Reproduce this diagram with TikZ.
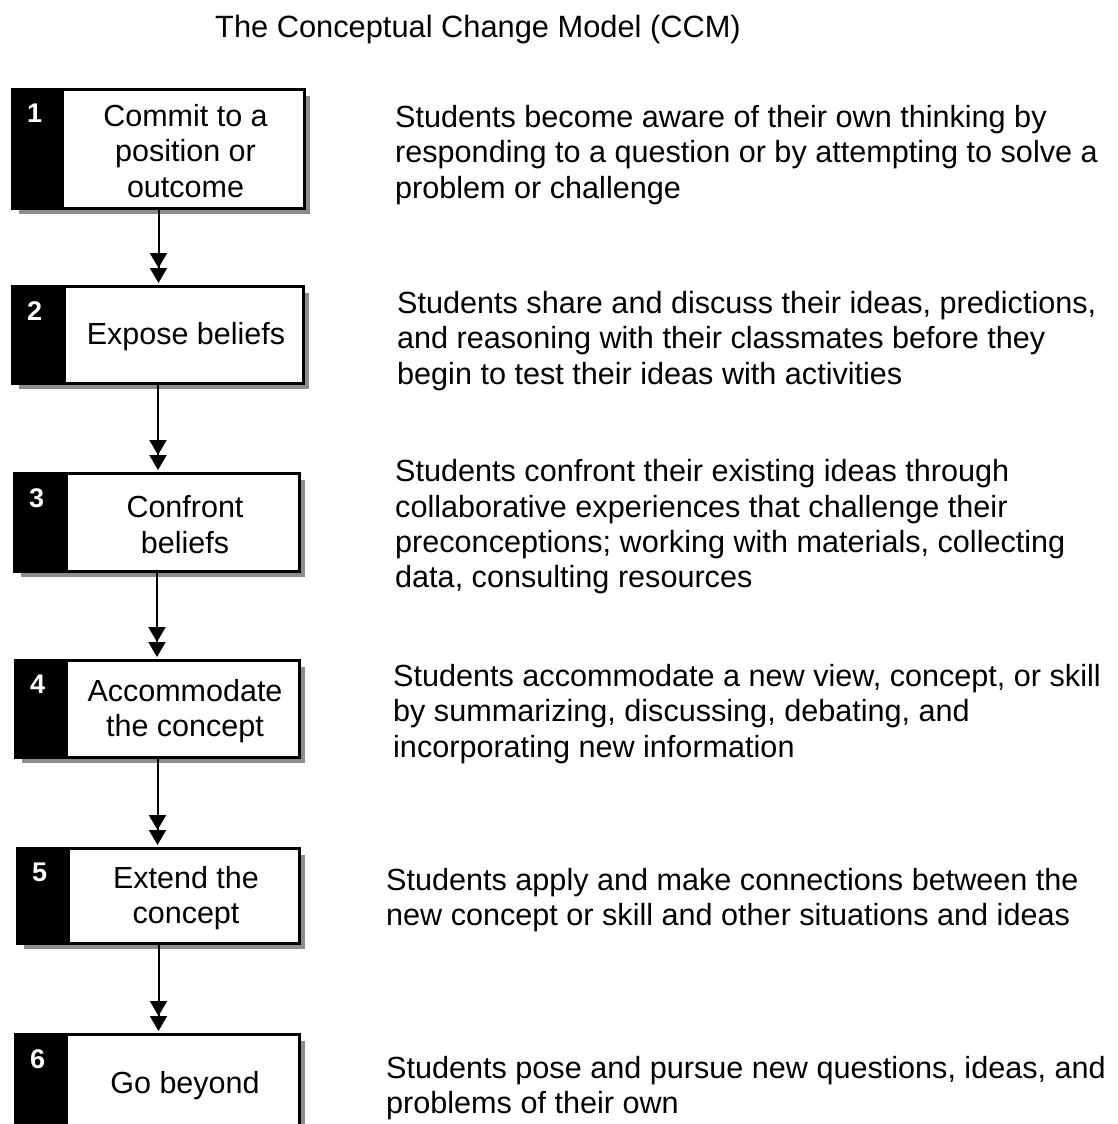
\documentclass[tikz,border=0pt]{standalone}
\usepackage{fontspec}
\setmainfont{Liberation Sans}
\usetikzlibrary{arrows.meta,shadows,calc}
\tikzset{
  stepbox/.style={draw=black, line width=2pt, fill=white, rectangle, inner sep=0pt,
    anchor=north west,
    drop shadow={shadow xshift=6pt, shadow yshift=-6pt, fill=black!45, opacity=1}},
  boxtext/.style={inner sep=0pt, align=center, font=\fontsize{30.5}{35.5}\selectfont},
  desctext/.style={inner sep=0pt, align=left, anchor=west, font=\fontsize{30.6}{35.3}\selectfont},
  numtext/.style={inner sep=0pt, anchor=north west, text=white, font=\fontsize{27}{27}\selectfont\bfseries},
  titletext/.style={inner sep=0pt, font=\fontsize{30.8}{35}\selectfont},
  flow/.style={draw=black, line width=2pt, shorten >=3pt,
    -{Triangle[width=17pt,length=15pt]Triangle[width=17pt,length=15pt]}}
}
\newcommand{\stepnode}[8]{%
  % #1 name, #2 x, #3 y, #4 width, #5 height, #6 black width, #7 number, #8 text
  \node[stepbox, minimum width=#4pt, minimum height=#5pt] (#1) at (#2,#3) {};
  \fill[black] (#1.north west) rectangle ($(#1.south west)+(#6,0)$);
  \draw[line width=2pt] (#1.north west) rectangle (#1.south east);
  \node[numtext] (#1n) at ($(#1.north west)+(15,15)$) {#7};
  \node[boxtext] (#1t) at ($(#1.north west)!0.5!(#1.south east)+(#6/2+1,2)$) {#8};
}
\begin{document}
\begin{tikzpicture}[x=1pt,y=-1pt]
\useasboundingbox (0,0) rectangle (1118,1124);
\fill[white] (0,0) rectangle (1118,1124);

\node[titletext] (title) at (478,30) {The Conceptual Change Model (CCM)};

\stepnode{b1}{12}{89}{291}{118}{52}{1}{Commit to a\\position or\\outcome}
\stepnode{b2}{12}{286}{290}{96}{54}{2}{Expose beliefs}
\stepnode{b3}{14}{473}{284}{97}{54}{3}{Confront\\beliefs}
\stepnode{b4}{15}{660}{283}{96}{53}{4}{Accommodate\\the concept}
\stepnode{b5}{17}{848}{281}{94}{53}{5}{Extend the\\concept}
\stepnode{b6}{15}{1034}{283}{97}{53}{6}{Go beyond}

\draw[flow] (b1.south) -- (b1.south |- b2.north);
\draw[flow] (b2.south) -- (b2.south |- b3.north);
\draw[flow] (b3.south) -- (b3.south |- b4.north);
\draw[flow] (b4.south) -- (b4.south |- b5.north);
\draw[flow] (b5.south) -- (b5.south |- b6.north);

\node[desctext] (d1) at (395,155) {Students become aware of their own thinking by\\responding to a question or by attempting to solve a\\problem or challenge};
\node[desctext] (d2) at (397,341) {Students share and discuss their ideas, predictions,\\and reasoning with their classmates before they\\begin to test their ideas with activities};
\node[desctext] (d3) at (395,527) {Students confront their existing ideas through\\collaborative experiences that challenge their\\preconceptions; working with materials, collecting\\data, consulting resources};
\node[desctext] (d4) at (393,714) {Students accommodate a new view, concept, or skill\\by summarizing, discussing, debating, and\\incorporating new information};
\node[desctext] (d5) at (386,900) {Students apply and make connections between the\\new concept or skill and other situations and ideas};
\node[desctext] (d6) at (386,1088) {Students pose and pursue new questions, ideas, and\\problems of their own};
\end{tikzpicture}
\end{document}
